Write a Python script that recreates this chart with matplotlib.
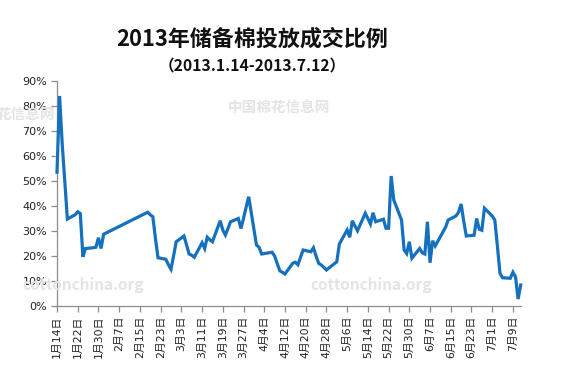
import matplotlib
matplotlib.use("Agg")
import matplotlib.pyplot as plt
import matplotlib.ticker as mticker
import pandas as pd

plt.rcParams['font.family'] = ['Noto Sans CJK SC', 'DejaVu Sans']

title = "2013年储备棉投放成交比例"
subtitle = "（2013.1.14-2013.7.12）"

dates = [
    "2013-01-14", "2013-01-15", "2013-01-16", "2013-01-17", "2013-01-18",
    "2013-01-21", "2013-01-22", "2013-01-23", "2013-01-24", "2013-01-25",
    "2013-01-28", "2013-01-29", "2013-01-30", "2013-01-31", "2013-02-01",
    "2013-02-18", "2013-02-19", "2013-02-20", "2013-02-21", "2013-02-22",
    "2013-02-25", "2013-02-26", "2013-02-27", "2013-02-28", "2013-03-01",
    "2013-03-04", "2013-03-05", "2013-03-06", "2013-03-07", "2013-03-08",
    "2013-03-11", "2013-03-12", "2013-03-13", "2013-03-14", "2013-03-15",
    "2013-03-18", "2013-03-19", "2013-03-20", "2013-03-21", "2013-03-22",
    "2013-03-25", "2013-03-26", "2013-03-27", "2013-03-28", "2013-03-29",
    "2013-04-01", "2013-04-02", "2013-04-03", "2013-04-07", "2013-04-08",
    "2013-04-09", "2013-04-10", "2013-04-11", "2013-04-12",
    "2013-04-15", "2013-04-16", "2013-04-17", "2013-04-18", "2013-04-19",
    "2013-04-22", "2013-04-23", "2013-04-24", "2013-04-25", "2013-04-26",
    "2013-04-27", "2013-04-28", "2013-05-02", "2013-05-03",
    "2013-05-06", "2013-05-07", "2013-05-08", "2013-05-09", "2013-05-10",
    "2013-05-13", "2013-05-14", "2013-05-15", "2013-05-16", "2013-05-17",
    "2013-05-20", "2013-05-21", "2013-05-22", "2013-05-23", "2013-05-24",
    "2013-05-27", "2013-05-28", "2013-05-29", "2013-05-30", "2013-05-31",
    "2013-06-03", "2013-06-04", "2013-06-05", "2013-06-06", "2013-06-07",
    "2013-06-08", "2013-06-09", "2013-06-13", "2013-06-14",
    "2013-06-17", "2013-06-18", "2013-06-19", "2013-06-20", "2013-06-21",
    "2013-06-24", "2013-06-25", "2013-06-26", "2013-06-27", "2013-06-28",
    "2013-07-01", "2013-07-02", "2013-07-03", "2013-07-04", "2013-07-05",
    "2013-07-08", "2013-07-09", "2013-07-10", "2013-07-11", "2013-07-12",
]
ratios = [
    53.5, 84.0, 65.0, 50.0, 34.8,
    36.5, 37.7, 37.0, 19.7, 23.0,
    23.3, 23.5, 27.3, 23.0, 28.7,
    37.5, 36.5, 35.7, 27.0, 19.3,
    18.7, 16.5, 14.7, 20.0, 25.7,
    28.0, 24.5, 20.8, 20.3, 19.5,
    25.3, 23.0, 27.5, 26.5, 25.7,
    34.1, 30.4, 28.4, 31.0, 33.7,
    35.0, 31.0, 35.0, 39.5, 43.7,
    24.4, 23.5, 20.8, 21.5, 20.0,
    17.0, 14.1, 13.5, 12.8,
    17.1, 17.5, 16.5, 19.5, 22.4,
    21.7, 23.3, 20.0, 17.1, 16.4,
    15.5, 14.4, 17.7, 24.8,
    30.4, 27.5, 34.1, 32.0, 30.1,
    37.1, 35.0, 32.8, 37.3, 33.7,
    34.7, 31.1, 31.1, 52.0, 42.4,
    34.4, 22.4, 21.0, 25.7, 19.1,
    23.0, 21.3, 20.8, 33.7, 17.3,
    26.1, 24.0, 31.5, 34.4,
    36.0, 37.5, 40.8, 34.0, 28.0,
    28.3, 35.0, 30.7, 30.3, 39.1,
    36.0, 34.4, 24.0, 13.1, 11.3,
    11.1, 13.5, 11.7, 2.8, 8.4,
]

x = pd.to_datetime(dates)
y = [v / 100 for v in ratios]

fig = plt.figure(figsize=(5.61, 3.73), dpi=100)
fig.patch.set_facecolor("white")
ax = fig.add_axes([57 / 561, 1 - 306 / 373, (520.7 - 57) / 561, (306 - 81) / 373])
ax.set_facecolor("none")

# faint watermarks
wm = dict(color="#e3e5e5", fontweight="bold", zorder=0)
fig.text(0.406, 0.712, "中国棉花信息网", fontsize=10.5, ha="left", va="center", **wm)
fig.text(0.098, 0.694, "花信息网", fontsize=10.5, ha="right", va="center", **wm)
fig.text(0.04, 0.236, "cottonchina.org", fontsize=11, ha="left", va="center", **wm)
fig.text(0.553, 0.236, "cottonchina.org", fontsize=11, ha="left", va="center", **wm)

ax.plot(x, y, color="#1570bd", lw=2.3, solid_joinstyle="miter", zorder=3, clip_on=False)

ax.set_ylim(0, 0.9)
ax.yaxis.set_major_locator(mticker.MultipleLocator(0.1))
ax.yaxis.set_major_formatter(mticker.FuncFormatter(lambda v, p: f"{v*100:.0f}%"))

start = pd.Timestamp("2013-01-14")
end = pd.Timestamp("2013-07-12")
ax.set_xlim(start, end)
ticks = pd.date_range(start, "2013-07-09", freq="8D")
ax.set_xticks(ticks)
ax.set_xticklabels([f"{d.month}月{d.day}日" for d in ticks], rotation=90, fontsize=7.8,
                   family=['DejaVu Sans', 'Noto Sans CJK SC'])
for lab in ax.get_yticklabels():
    lab.set_family(['DejaVu Sans'])

for s in ["top", "right"]:
    ax.spines[s].set_visible(False)
for s in ["left", "bottom"]:
    ax.spines[s].set_color("#8c8c8c")
    ax.spines[s].set_linewidth(0.9)
ax.tick_params(axis="both", colors="#8c8c8c", length=4, width=0.9, direction="out")
ax.tick_params(axis="y", labelsize=8, labelcolor="#222222", pad=3)
ax.tick_params(axis="x", labelcolor="#222222", pad=3)
for lab in ax.get_yticklabels():
    lab.set_family(['DejaVu Sans'])

fig.text(0.449, 0.895, title, ha="center", va="center", fontsize=15.8, fontweight="bold", color="#111111")
fig.text(0.449, 0.823, subtitle, ha="center", va="center", fontsize=11.3, fontweight="bold", color="#111111")

fig.savefig("out.png", dpi=100)
